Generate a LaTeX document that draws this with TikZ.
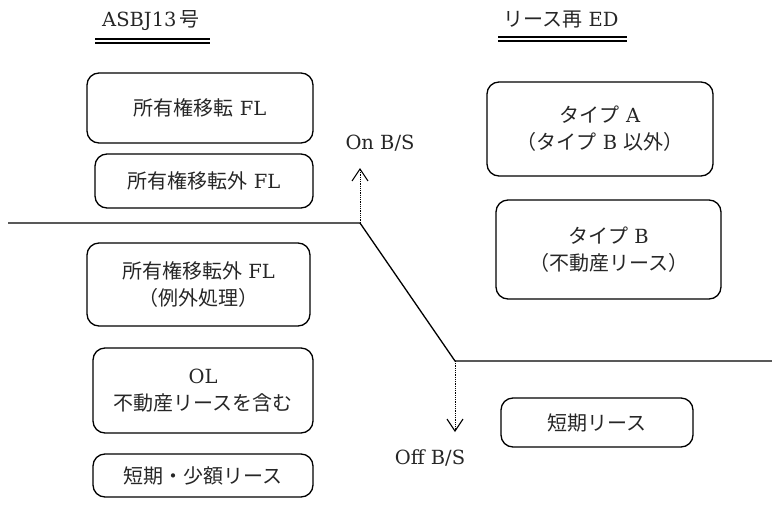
\documentclass[tikz,border=0pt]{standalone}
\usepackage{fontspec}
\setmainfont{DejaVu Serif}
\newfontfamily\jpfont{Noto Sans CJK JP}
\newcommand{\JT}[1]{{\jpfont\fontsize{20}{27}\selectfont #1}}
\usetikzlibrary{arrows.meta}
\begin{document}
\begin{tikzpicture}[x=1pt,y=-1pt,
  every node/.style={text=black!85, font=\fontsize{19.5}{27}\selectfont},
  box/.style={draw=black, line width=1.3pt, rounded corners=12pt, align=center, inner sep=0pt},
  lbl/.style={inner sep=0pt},
  level/.style={line width=1.3pt, line join=round},
  uline/.style={line width=1.4pt},
  bsarrow/.style={densely dotted, line width=0.8pt, -{Straight Barb[length=12pt,width=16pt,line width=1.1pt]}}]
\useasboundingbox (0,0) rectangle (772,504);

% headings
\node[lbl] (hA) at (151,21) {ASBJ13\,\JT{号}};
\node[lbl] (hB) at (561,20) {\JT{リース再} ED};
\draw[uline] (95,39) -- (210,39);
\draw[uline] (95,43) -- (210,43);
\draw[uline] (498,37) -- (627,37);
\draw[uline] (498,41) -- (627,41);

% left boxes
\node[box, minimum width=226pt, minimum height=70pt] (own) at (200,108) {\JT{所有権移転} FL};
\node[box, minimum width=218pt, minimum height=54pt] (nown) at (204,181) {\JT{所有権移転外} FL};
\node[box, minimum width=223pt, minimum height=83pt] (exc) at (198.5,284.5) {\JT{所有権移転外} FL\\\JT{（例外処理）}};
\node[box, minimum width=220pt, minimum height=85pt] (ol) at (203,390.5) {OL\\\JT{不動産リースを含む}};
\node[box, minimum width=220pt, minimum height=43pt] (sm) at (203,475.5) {\JT{短期・少額リース}};

% right boxes
\node[box, minimum width=226pt, minimum height=94pt] (ta) at (600,129) {\JT{タイプ} A\\\JT{（タイプ} B \JT{以外）}};
\node[box, minimum width=225pt, minimum height=99pt] (tb) at (608.5,249.5) {\JT{タイプ} B\\\JT{（不動産リース）}};
\node[box, minimum width=192pt, minimum height=49pt] (st) at (597,422.5) {\JT{短期リース}};

% on/off balance sheet line
\coordinate (l0) at (8,223);
\coordinate (k1) at (360,223);
\coordinate (k2) at (455,361);
\coordinate (r0) at (772,361);
\draw[level] (l0) -- (k1) -- (k2) -- (r0);

\coordinate (upTip) at (360,168);
\coordinate (dnTip) at (455,432);
\draw[bsarrow] (k1) -- (upTip);
\draw[bsarrow] (k2) -- (dnTip);

\node[lbl] (on) at (380,143) {On B/S};
\node[lbl] (off) at (430,458) {Off B/S};
\end{tikzpicture}
\end{document}
